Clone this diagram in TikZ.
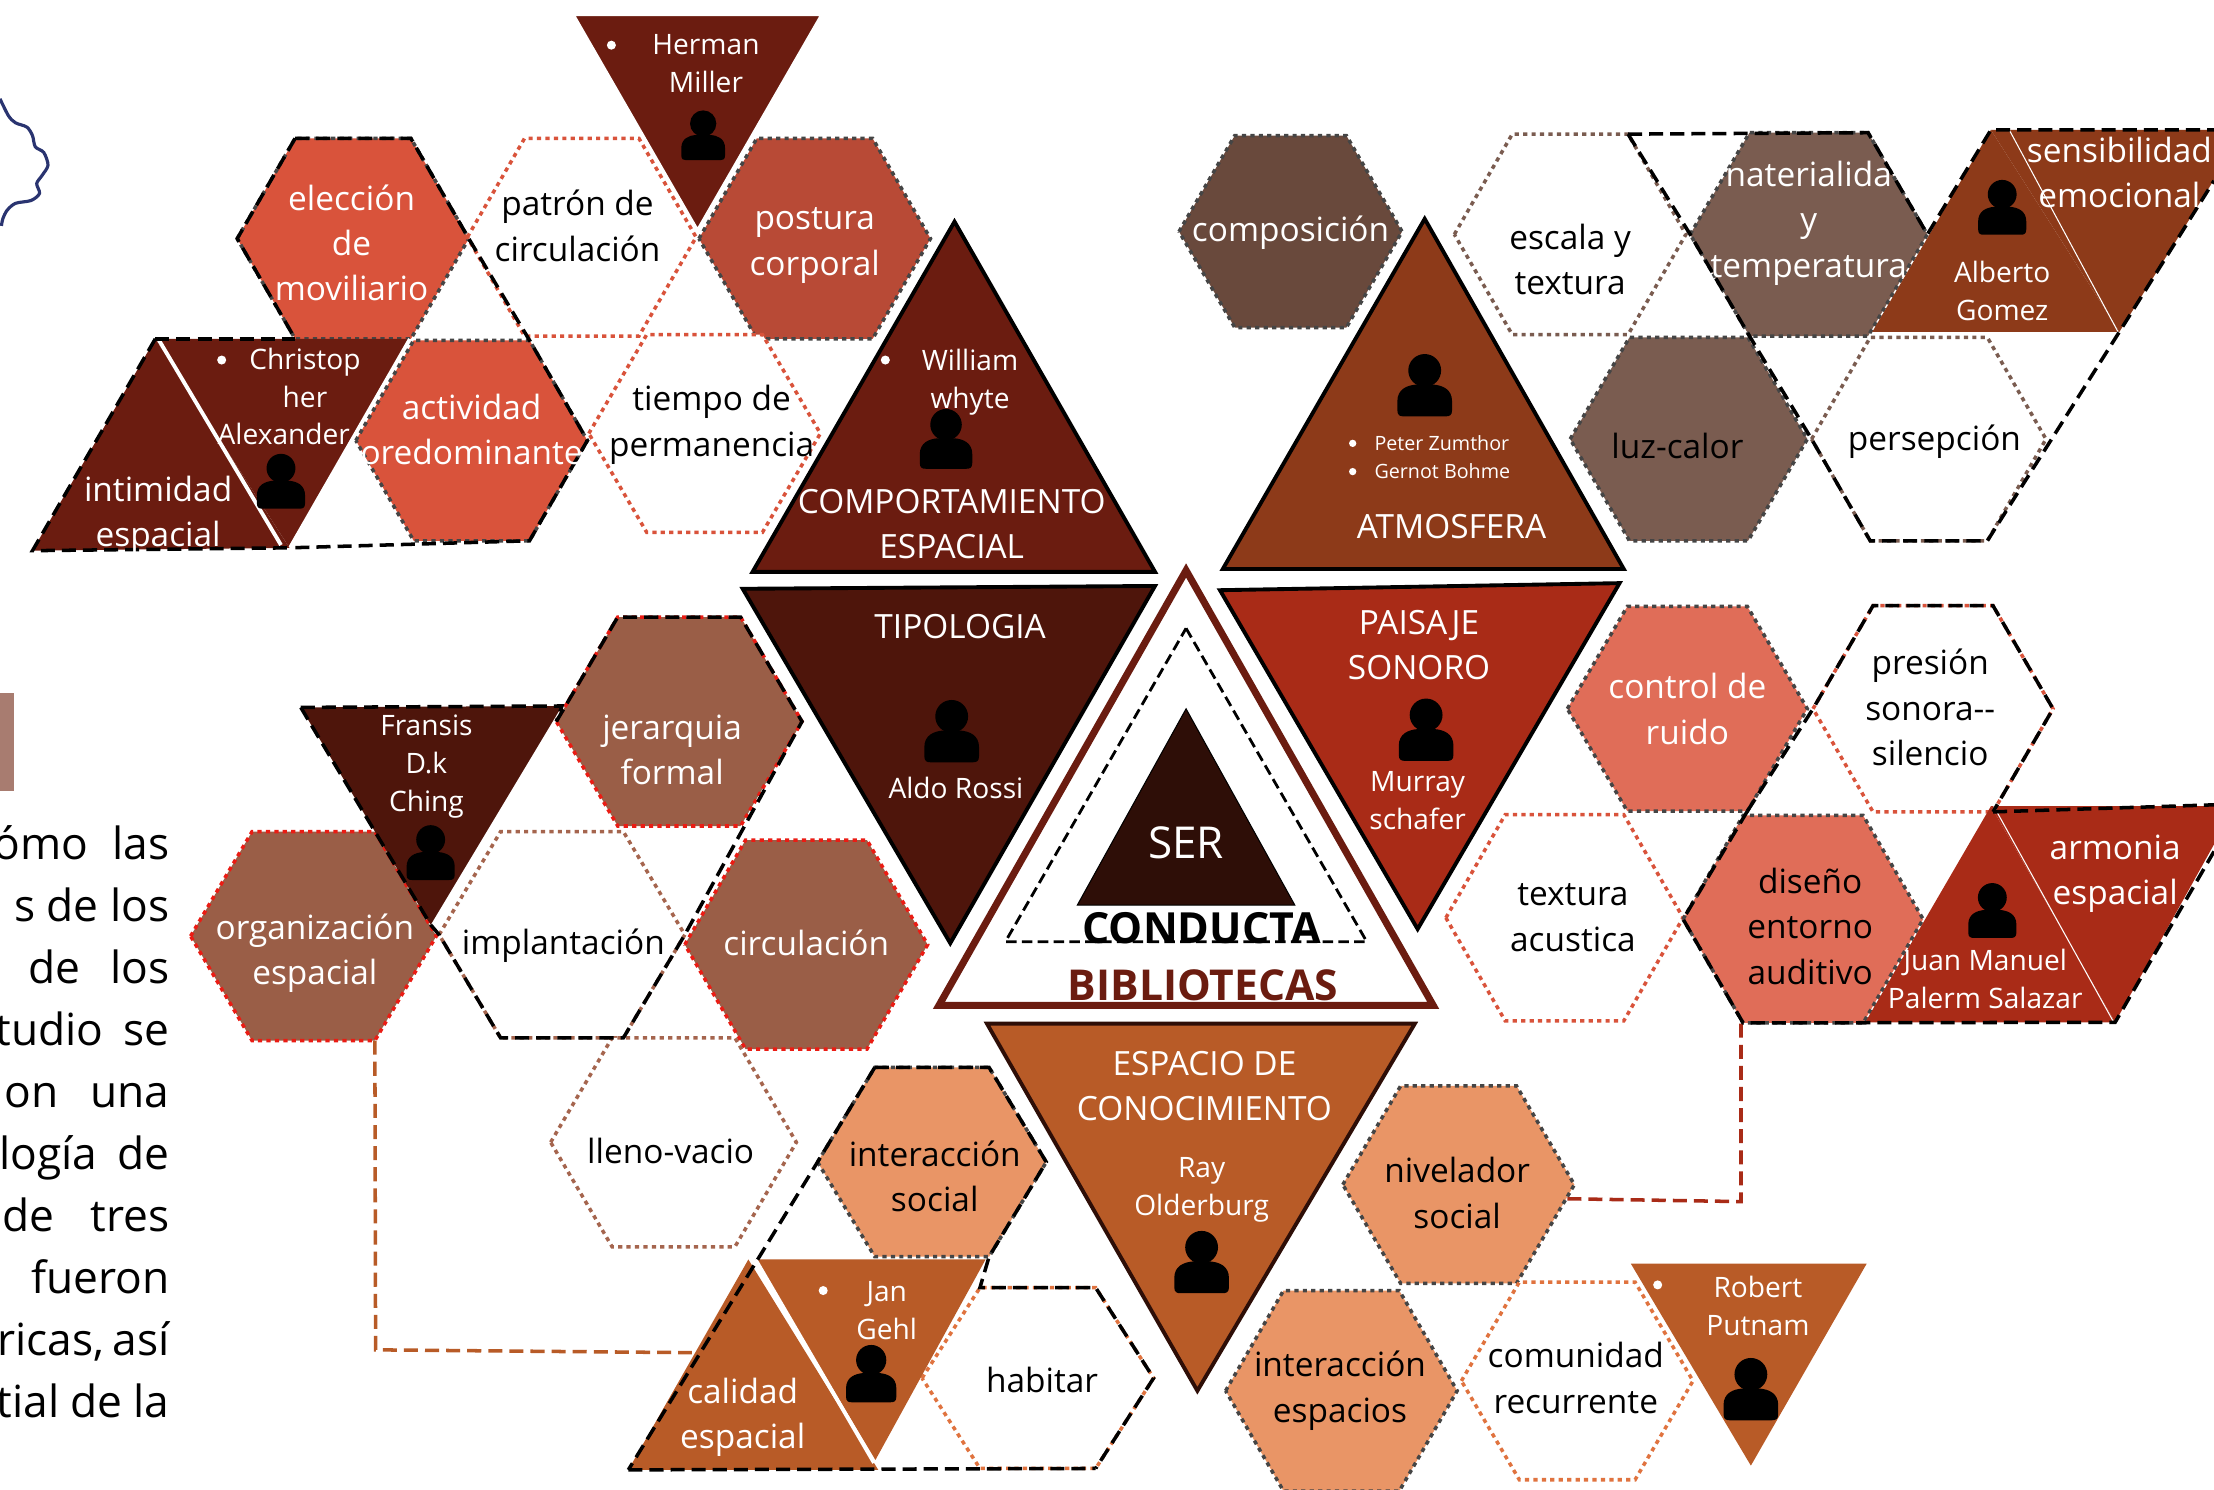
\documentclass[tikz,border=0pt]{standalone}
\usepackage{fontspec}
\setmainfont{Open Sans}
\definecolor{cA}{HTML}{6B1C10}
\definecolor{cT}{HTML}{4E150B}
\definecolor{cS}{HTML}{2E0E07}
\definecolor{cB}{HTML}{8D3A19}
\definecolor{cP}{HTML}{A92B17}
\definecolor{cE}{HTML}{B85B27}
\definecolor{hRed}{HTML}{D9533B}
\definecolor{hRedD}{HTML}{B84A36}
\definecolor{hBrown}{HTML}{69493C}
\definecolor{hBrownL}{HTML}{7A5C50}
\definecolor{hSalmon}{HTML}{E06D58}
\definecolor{hOrange}{HTML}{E99566}
\definecolor{hTerra}{HTML}{9A5E47}
\definecolor{dotGray}{HTML}{454545}
\definecolor{dotRed}{HTML}{EA1C14}
\definecolor{dotBrown}{HTML}{A5654E}
\definecolor{dotOrange}{HTML}{E0733F}
\definecolor{squig}{HTML}{2A3470}
\definecolor{pinkbar}{HTML}{A87C70}
\tikzset{
  x=0.01412cm,y=-0.01411cm,
  dotline/.style={line width=1pt,dash pattern=on 1.2pt off 1.2pt},
  hexG/.style={dotline,draw=dotGray,fill=#1},
  hexR/.style={dotline,draw=dotRed,fill=#1},
  hexW/.style={dotline,draw=#1,fill=white},
  blk/.style={draw=black,line width=1pt,dash pattern=on 4pt off 2pt},
  conn/.style={line width=1pt,dash pattern=on 4pt off 2pt},
  lab/.style={align=center,inner sep=0pt,font=\fontsize{9.5}{12.9}\selectfont},
  labw/.style={lab,text=white},
  labk/.style={lab,text=black},
  nam/.style={align=center,inner sep=0pt,text=white,font=\fontsize{8}{10.8}\selectfont},
  sm/.style={anchor=west,inner sep=0pt,text=white,font=\fontsize{5.6}{8}\selectfont},
  body/.style={anchor=base east,inner sep=0pt,text=black,font=\fontsize{12.6}{16}\selectfont},
  dot/.style={fill=white},
  person/.pic={
    \fill[black] (0,-8.5) circle [radius=9.3];
    \fill[black] (-15.5,14) -- (-15.5,9) .. controls (-15.5,2) and (-10,0) .. (-5,-0.5) -- (5,-0.5) .. controls (10,0) and (15.5,2) .. (15.5,9) -- (15.5,14) .. controls (15.5,17) and (14,17.5) .. (12,17.5) -- (-12,17.5) .. controls (-14,17.5) and (-15.5,17) .. (-15.5,14) -- cycle;
  }
}
% style, name, cx, cy, half width, half height
\newcommand\hexa[6]{
  \coordinate (#2L) at ({#3-#5},{#4});
  \coordinate (#2R) at ({#3+#5},{#4});
  \coordinate (#2TL) at ({#3-#5/2},{#4-#6});
  \coordinate (#2TR) at ({#3+#5/2},{#4-#6});
  \coordinate (#2BL) at ({#3-#5/2},{#4+#6});
  \coordinate (#2BR) at ({#3+#5/2},{#4+#6});
  \path[#1] (#2L)--(#2TL)--(#2TR)--(#2R)--(#2BR)--(#2BL)--cycle;
}
\newcommand\trian[5]{
  \coordinate (#2a) at #3;
  \coordinate (#2b) at #4;
  \coordinate (#2c) at #5;
  \path[#1] (#2a)--(#2b)--(#2c)--cycle;
}
\begin{document}
\begin{tikzpicture}
\useasboundingbox (0,0) rectangle (1568,1055);
\clip (0,0) rectangle (1568,1055);

% page remains on the left
\draw[color=squig,line width=0.9pt] plot[smooth] coordinates {(0,70) (6,82) (11,87) (19,90) (23,96) (25,104) (31,108) (34,117) (30,124) (26,130) (28,137) (22,142) (11,144) (5,149) (2,155) (1,160)};
\fill[color=pinkbar] (0,491) rectangle (10,560);
\node[body] (b1) at (120.5,609) {ómo\hspace{0.24cm}las};
\node[body] (b2) at (120.5,652.9) {s de los};
\node[body] (b3) at (120.5,696.8) {de\hspace{0.3cm}los};
\node[body] (b4) at (120.5,740.7) {tudio\hspace{0.2cm}se};
\node[body] (b5) at (120.5,784.6) {on\hspace{0.32cm}una};
\node[body] (b6) at (120.5,828.5) {logía\hspace{0.2cm}de};
\node[body] (b7) at (120.5,872.4) {de\hspace{0.36cm}tres};
\node[body] (b8) at (120.5,916.3) {fueron};
\node[body] (b9) at (120.5,960.2) {ricas,\hspace{0.08cm}así};
\node[body] (b10) at (120.5,1004.1) {tial\hspace{0.11cm}de\hspace{0.11cm}la};

% ---- hexagons
\hexa{hexG=hRed}{ele}{250}{169}{82}{71}
\hexa{hexW=hRed}{pat}{412}{168}{81}{70}
\hexa{hexG=hRedD}{pos}{577}{169}{82}{71}
\hexa{hexG=hRed}{act}{334}{312}{82}{71}
\hexa{hexW=hRed}{tie}{499}{307}{82}{70}

\hexa{hexG=hBrown}{com}{914}{164}{79}{68}
\hexa{hexW=hBrownL}{esc}{1112}{166}{82}{71}
\hexa{hexG=hBrownL}{mat}{1281}{166}{84}{72}
\hexa{hexG=hBrownL}{luz}{1196}{311}{84}{72}
\hexa{hexW=hBrownL}{per}{1366}{311}{83}{72}

\hexa{hexG=hSalmon}{con}{1195}{502}{85}{72.5}
\hexa{hexW=hRed}{pre}{1369}{502}{85}{73}
\hexa{hexW=hRed}{tex}{1108}{650}{84}{73}
\hexa{hexG=hSalmon}{dis}{1277}{651}{85}{73.5}

\hexa{hexG=hOrange}{niv}{1033}{839}{82}{70}
\hexa{hexG=hOrange}{inE}{950}{985}{82}{71}
\hexa{hexW=dotOrange}{cmd}{1117}{978}{82}{70}
\hexa{hexW=dotOrange}{hab}{735}{976}{82}{64}
\hexa{hexG=hOrange}{inS}{660}{823}{81}{67}

\hexa{hexR=hTerra}{jer}{481}{511}{87}{74}
\hexa{hexR=hTerra}{org}{222}{663}{87}{74}
\hexa{hexW=dotBrown}{imp}{398}{662}{87}{73}
\hexa{hexR=hTerra}{cir}{571}{669}{86}{74}
\hexa{hexW=dotBrown}{lle}{477}{809}{87}{74}

% ---- connectors
\coordinate (k0) at (1110,849);
\coordinate (k1) at (266,956);
\coordinate (k2) at (490,958);
\coordinate (k3) at (1233,851);
\coordinate (k4) at (1233,724);
\draw[conn,color=cE] (orgBR) -- (k1) -- (k2);
\draw[conn,color=cP] (k0) -- (k3) -- (k4);

% ---- triangles
\trian{fill=cA,draw=white,line width=0.4pt}{her}{(407,11)}{(581,11)}{(494,162)}
\trian{fill=cA}{chr}{(110,240)}{(290,240)}{(205,388)}
\draw[white,line width=0.8pt] (chrb) -- (chrc);
\trian{fill=cA}{inti}{(110,240)}{(205,388)}{(23,390)}
\draw[white,line width=1.1pt] (112,240) -- (199,386);
\trian{fill=cT}{fra}{(213,501)}{(398,500)}{(305,655)}
\trian{fill=cB}{alb}{(1410,92)}{(1501,235)}{(1326,235)}
\trian{fill=cB}{sen}{(1410,92)}{(1590,92)}{(1501,235)}
\draw[white,line width=0.3pt] (1423,92) -- (1500,235);
\trian{fill=cP}{jua}{(1410,571)}{(1498,724)}{(1321,724)}
\trian{fill=cP}{arm}{(1410,571)}{(1583,571)}{(1498,724)}
\draw[white,line width=0.3pt] (1412,571) -- (1497,724);
\trian{fill=cE}{rob}{(1155,895)}{(1322,895)}{(1240,1038)}
\trian{fill=cE}{jan}{(535,892)}{(698,892)}{(620,1034)}
\trian{fill=cE}{cal}{(530,892)}{(622,1041)}{(445,1041)}
\draw[white,line width=1.1pt] (535,892) -- (619,1036);

\trian{fill=cA,draw=black,line width=1.1pt,line join=miter}{beh}{(676,157)}{(818,405)}{(533,405)}
\trian{fill=cB,draw=black,line width=1.1pt,line join=miter}{atm}{(1009,155)}{(1150,403)}{(866,403)}
\trian{fill=cT,draw=black,line width=1.1pt,line join=miter}{tip}{(526,417)}{(818,415)}{(673,668)}
\trian{fill=cP,draw=black,line width=1.1pt,line join=miter}{pai}{(864,418)}{(1147,413)}{(1004,658)}
\trian{fill=cE,draw=cS,line width=1.1pt,line join=miter}{esp}{(699,725)}{(1002,725)}{(848,985)}

% ---- centre
\trian{draw=cA,line width=2pt,line join=miter,fill=white}{bib}{(840,404)}{(1015,712)}{(665,712)}
\trian{draw=black,line width=0.8pt,dash pattern=on 3pt off 1.5pt,line join=miter}{cnd}{(840,445)}{(968,667)}{(712,667)}
\trian{fill=cS,draw=black,line width=0.3pt}{ser}{(840,502)}{(917,641)}{(763,641)}

% ---- dashed black outlines
\draw[blk] (eleTL) -- (eleL) -- (eleBL);
\draw[blk] (eleTL) -- (eleTR) -- (eleR) -- (actTR) -- (actR) -- (actBR) -- (chrc);
\draw[blk] (chra) -- (eleBL);
\draw[blk] (chra) -- (intic) -- (intib);
\draw[blk] (intib) -- (chrc);
\draw[blk] (escTR) -- (matTR) -- (matR) -- (alba) -- (1568,92);
\draw[blk] (escTR) -- (matL) -- (matBL) -- (perL) -- (perBL) -- (perBR) -- (albb) -- (1568,128);
\draw[blk] (conBR) -- (disL) -- (disBL) -- (armc) -- (1568,603);
\draw[blk] (conBR) -- (preL) -- (preTL) -- (preTR) -- (preR) -- (preBR);
\draw[blk] (preBR) -- (1568,570);
\draw[blk] (fraa) -- (frab) -- (jerL);
\draw[blk] (jerL) -- (jerTL) -- (jerTR) -- (jerR) -- (impR) -- (impBR) -- (impBL) -- (impL) -- (frac) -- (fraa);
\draw[blk] (inSTL) -- (inSTR) -- (inSR) -- (inSBR) -- (habTL) -- (habTR) -- (habR) -- (habBR);
\draw[blk] (inSTL) -- (inSL) -- (calc);
\draw[blk] (calc) -- (habBR);

% ---- icons
\pic at (498,96) {person};
\pic[scale=1.1] at (199,341) {person};
\pic[scale=1.2] at (670,311) {person};
\pic[scale=1.25] at (1009,273) {person};
\pic[scale=1.1] at (1418,147) {person};
\pic[scale=1.25] at (674,518) {person};
\pic[scale=1.25] at (1010,517) {person};
\pic[scale=1.1] at (1411,645) {person};
\pic[scale=1.1] at (305,604) {person};
\pic[scale=1.25] at (851,894) {person};
\pic[scale=1.15] at (617,973) {person};
\pic[scale=1.25] at (1240,984) {person};

% ---- bullets
\fill[dot] (433,32) circle [radius=3.2];
\fill[dot] (157,255) circle [radius=3.2];
\fill[dot] (627,255) circle [radius=3.2];
\fill[dot] (958,314) circle [radius=2.6];
\fill[dot] (958,334) circle [radius=2.6];
\fill[dot] (583,914) circle [radius=3.2];
\fill[dot] (1174,910) circle [radius=3.2];

% ---- hexagon texts
\node[labw] (t1) at (249,172) {elección\\de\\moviliario};
\node[labk] (t2) at (409,160) {patrón de\\circulación};
\node[labw] (t3) at (577,174) {postura\\corporal};
\node[labw] (t4) at (334,304) {actividad\\oredominante};
\node[labk] (t5) at (504,301) {tiempo de\\permanencia};
\node[labw] (t6) at (914,165) {composición};
\node[labk] (t7) at (1112,184) {escala y\\textura};
\node[labw] (t8) at (1281,158) {naterialida\\y\\temperatura};
\node[labk] (t9) at (1188,316) {luz-calor};
\node[labk] (t10) at (1370,313) {persepción};
\node[labw] (t11) at (1195,502) {control de\\ruido};
\node[labk] (t12) at (1367,501) {presión\\sonora-{}-\\silencio};
\node[labk] (t13) at (1114,650) {textura\\acustica};
\node[labk] (t14) at (1282,656) {diseño\\entorno\\auditivo};
\node[labk] (t15) at (1032,845) {nivelador\\social};
\node[labk] (t16) at (949,985) {interacción\\espacios};
\node[labk] (t17) at (1116,976) {comunidad\\recurrente};
\node[labk] (t18) at (738,977) {habitar};
\node[labk] (t19) at (662,833) {interacción\\social};
\node[labw] (t20) at (476,531) {jerarquia\\formal};
\node[labw] (t21) at (223,675) {organización\\espacial};
\node[labk] (t22) at (399,670) {implantación};
\node[labw] (t23) at (571,668) {circulación};
\node[labk] (t24) at (475,815) {lleno-vacio};

% ---- triangle texts
\node[labw] (u1) at (112,365) {intimidad\\espacial};
\node[labw] (u2) at (1501,122) {sensibilidad\\emocional};
\node[labw] (u3) at (1498,619) {armonia\\espacial};
\node[labw] (u4) at (526,1004) {calidad\\espacial};
\node[labw] (u5) at (674,371) {COMPORTAMIENTO\\ESPACIAL};
\node[labw] (u6) at (1028,373) {ATMOSFERA};
\node[labw] (u7) at (680,444) {TIPOLOGIA};
\node[labw] (u8) at (1005,457) {PAISAJE\\SONORO};
\node[labw] (u9) at (853,769) {ESPACIO DE\\CONOCIMIENTO};
\node[inner sep=0pt,text=white,font=\fontsize{12.5}{14}\selectfont] (u10) at (840,597) {SER};

\node[inner sep=0pt,text=black,font=\fontsize{12.2}{14}\selectfont\bfseries] (u11) at (851,657) {CONDUCTA};
\node[inner sep=0pt,text=cA,font=\fontsize{12.1}{14}\selectfont\bfseries] (u12) at (852,698) {BIBLIOTECAS};

\node[nam] (v1) at (500,45) {Herman\\Miller};
\node[nam] (v2) at (216,268) {Christop\\her};
\node[nam] (v2b) at (201,307) {Alexander};
\node[nam] (v3) at (687,271) {William\\whyte};
\node[sm] (v4) at (973,314) {Peter Zumthor};
\node[sm] (v5) at (973,334) {Gernot Bohme};
\node[nam] (v6) at (1418,206) {Alberto\\Gomez};
\node[nam] (v7) at (677,558) {Aldo Rossi};
\node[nam] (v8) at (1004,567) {Murray\\schafer};
\node[nam] (v9) at (1406,693) {Juan Manuel\\Palerm Salazar};
\node[nam] (v10) at (302,543) {Fransis\\D.k\\Ching};
\node[nam] (v11) at (851,843) {Ray\\Olderburg};
\node[nam] (v12) at (628,928) {Jan\\Gehl};
\node[nam] (v13) at (1245,925) {Robert\\Putnam};
\end{tikzpicture}
\end{document}
